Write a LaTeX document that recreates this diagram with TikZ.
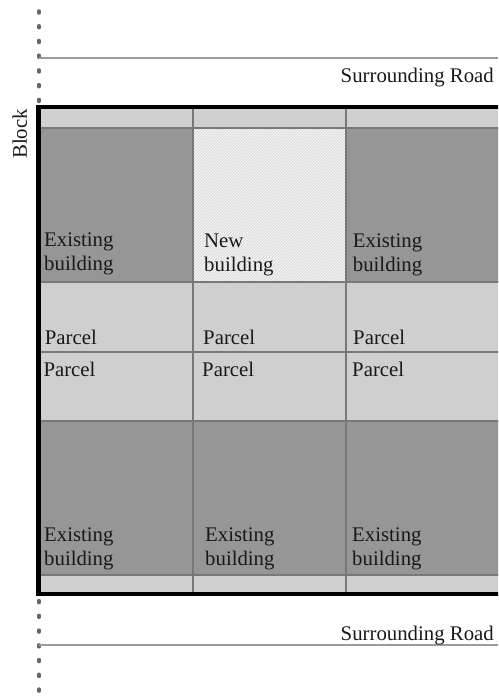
\documentclass[tikz,border=0pt]{standalone}
\usepackage{fontspec}
\setmainfont{Liberation Serif}
\usetikzlibrary{patterns}
\definecolor{bldgray}{RGB}{150,150,150}
\definecolor{parcelgray}{RGB}{207,207,207}
\definecolor{gridgray}{RGB}{120,120,120}
\definecolor{roadgray}{RGB}{155,155,155}
\definecolor{newgray}{RGB}{222,222,222}
\begin{document}
\begin{tikzpicture}
            [x = 1pt, y = -1pt,
             lbl/.style = {anchor = base west, inner sep = 0pt, align = left,
                           font = \fontsize{20.8}{24}\selectfont, text = black!90},
             grid/.style = {gridgray, line width = 1.6pt},
             road/.style = {roadgray, line width = 1.5pt}]
            \clip (0,0) rectangle (498,696);
            % block edge, dotted
            \draw[gray!80!black, line width = 3.5pt, line cap = round,
                  dash pattern = on 2pt off 12.74pt] (39,11) -- (39,700);
            % block fills
            \fill[parcelgray] (38.5,107) rectangle (520,594);
            \fill[bldgray] (38.5,128) rectangle (520,282);
            \fill[bldgray] (38.5,421) rectangle (520,575);
            \fill[newgray] (193,128) rectangle (346,282);
            \fill[pattern = north east lines, pattern color = white] (193,128) rectangle (346,282);
            % parcel lines
            \draw[grid] (38.5,128) -- (520,128);
            \draw[grid] (38.5,282) -- (520,282);
            \draw[grid] (38.5,352) -- (520,352);
            \draw[grid] (38.5,421) -- (520,421);
            \draw[grid] (38.5,575) -- (520,575);
            \draw[grid] (193,107) -- (193,594);
            \draw[grid] (346,107) -- (346,594);
            \draw[line width = 4.5pt] (38.5,107) rectangle (520,594);
            % roads
            \draw[road] (39,58) -- (498,58);
            \draw[road] (39,645) -- (498,645);
            \node[lbl, anchor = base east] (roadN) at (494,82.3) {Surrounding Road};
            \node[lbl, anchor = base east] (roadS) at (494,640) {Surrounding Road};
            \node[lbl, anchor = base, rotate = 90] (block) at (27,134) {Block};
            % buildings
            \node[lbl] (exA) at (44,270) {Existing\\building};
            \node[lbl] (new) at (204,271.7) {New\\building};
            \node[lbl] (exB) at (352.7,271.7) {Existing\\building};
            \node[lbl] (exC) at (44,565) {Existing\\building};
            \node[lbl] (exD) at (205,565) {Existing\\building};
            \node[lbl] (exE) at (352,565) {Existing\\building};
            % parcels
            \node[lbl] (pA) at (44.7,344) {Parcel};
            \node[lbl] (pB) at (203,344) {Parcel};
            \node[lbl] (pC) at (353,344) {Parcel};
            \node[lbl] (pD) at (43.3,376.7) {Parcel};
            \node[lbl] (pE) at (202,376.7) {Parcel};
            \node[lbl] (pF) at (352,376.7) {Parcel};
        \end{tikzpicture}
\end{document}
